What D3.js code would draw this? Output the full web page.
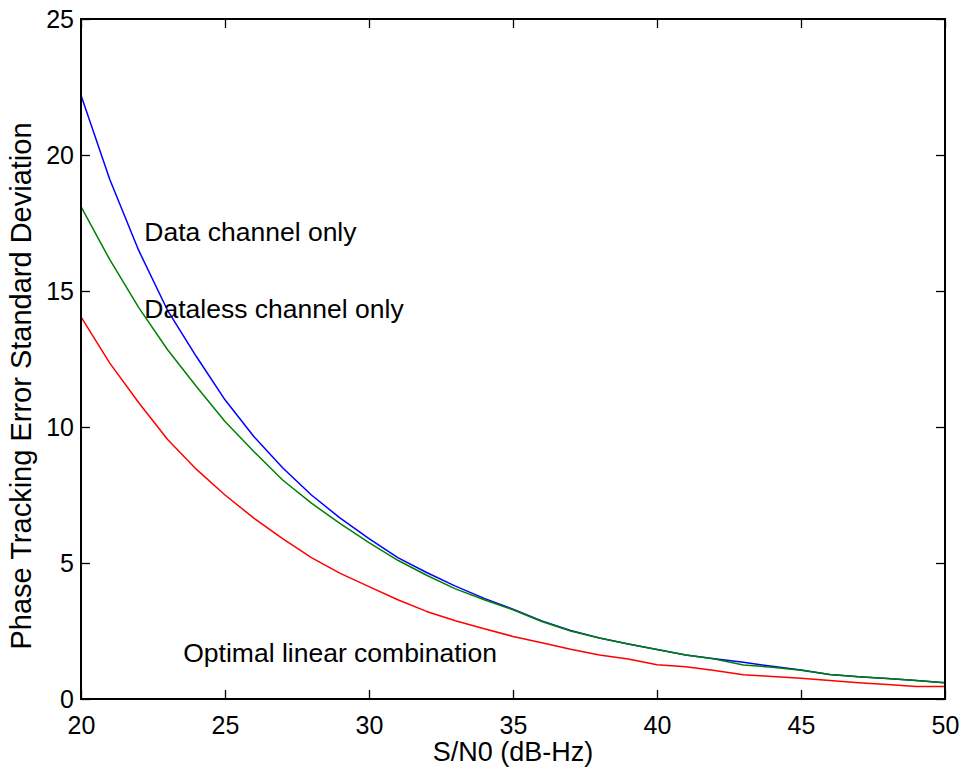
<!DOCTYPE html>
<html>
<head>
<meta charset="utf-8">
<script src="https://cdn.jsdelivr.net/npm/d3@7"></script>
<style>
  body { margin: 0; background: #fff; }
  svg { display: block; font-family: "Liberation Sans", Arial, Helvetica, sans-serif; }
</style>
</head>
<body>
<svg id="chart" width="964" height="775"></svg>
<script>
const snr = [20,21,22,23,24,25,26,27,28,29,30,31,32,33,34,35,36,37,38,39,40,41,42,43,44,45,46,47,48,49,50];
const dataChannel = [22.2,19.1,16.5,14.3,12.6,11.0,9.65,8.5,7.5,6.65,5.9,5.2,4.65,4.15,3.7,3.3,2.87,2.52,2.24,2.02,1.82,1.62,1.48,1.35,1.2,1.07,0.9,0.82,0.75,0.68,0.6];
const datalessChannel = [18.1,16.15,14.4,12.85,11.5,10.2,9.1,8.05,7.2,6.45,5.75,5.1,4.55,4.05,3.65,3.28,2.85,2.5,2.24,2.02,1.82,1.62,1.47,1.25,1.17,1.06,0.9,0.82,0.75,0.68,0.6];
const optimalCombination = [14.05,12.35,10.9,9.55,8.45,7.5,6.65,5.9,5.2,4.62,4.13,3.65,3.22,2.88,2.58,2.3,2.07,1.83,1.62,1.47,1.26,1.19,1.05,0.89,0.83,0.76,0.68,0.6,0.53,0.46,0.46];
const xTicks = [20,25,30,35,40,45,50];
const yTicks = [0,5,10,15,20,25];
const seriesNames = ["Data channel only","Dataless channel only","Optimal linear combination"];
const seriesColors = ["#0000ff","#008000","#ff0000"];
const xLabel = "S/N0 (dB-Hz)";
const yLabel = "Phase Tracking Error Standard Deviation";
const annX = [22.2, 22.2, 23.55];
const annY = [16.84, 14.0, 1.36];

const svg = d3.select("#chart");
const L = 81, R = 945, T = 19, B = 699;
const x = d3.scaleLinear().domain([20,50]).range([L,R]);
const y = d3.scaleLinear().domain([0,25]).range([B,T]);
const tickLen = 9;

// series
const allSeries = [dataChannel, datalessChannel, optimalCombination];
const line = d3.line().x((d,i)=>x(snr[i])).y(d=>y(d));
[2,0,1].forEach(k => {
  svg.append("path").datum(allSeries[k])
    .attr("d", line)
    .attr("fill","none")
    .attr("stroke", seriesColors[k])
    .attr("stroke-width", 1.5)
    .attr("stroke-linejoin","round");
});

// axes (inward ticks)
const tickFs = 25;
const gB = svg.append("g").attr("transform",`translate(0,${B})`)
  .call(d3.axisBottom(x).tickValues(xTicks).tickSizeInner(-tickLen).tickSizeOuter(0).tickPadding(17).tickFormat(d3.format("d")));
const gT = svg.append("g").attr("transform",`translate(0,${T})`)
  .call(d3.axisTop(x).tickValues(xTicks).tickSizeInner(-tickLen).tickSizeOuter(0).tickFormat(""));
const gL = svg.append("g").attr("transform",`translate(${L},0)`)
  .call(d3.axisLeft(y).tickValues(yTicks).tickSizeInner(-tickLen).tickSizeOuter(0).tickPadding(7).tickFormat(d3.format("d")));
const gR = svg.append("g").attr("transform",`translate(${R},0)`)
  .call(d3.axisRight(y).tickValues(yTicks).tickSizeInner(-tickLen).tickSizeOuter(0).tickFormat(""));
[gB,gT,gL,gR].forEach(g => {
  g.select(".domain").remove();
  g.selectAll(".tick line").attr("stroke","#000").attr("stroke-width",1.3);
  g.selectAll(".tick text").attr("fill","#000").attr("font-size",tickFs).attr("font-family","Liberation Sans, Arial, sans-serif");
});
gL.selectAll(".tick text").attr("x",-7);

// frame
svg.append("rect").attr("x",L).attr("y",T).attr("width",R-L).attr("height",B-T)
  .attr("fill","none").attr("stroke","#000").attr("stroke-width",2);

// axis labels
svg.append("text").attr("x",(L+R)/2).attr("y",761).attr("text-anchor","middle")
  .attr("font-size",27).attr("fill","#000").text(xLabel);
svg.append("text").attr("transform","translate(31,386) rotate(-90)").attr("text-anchor","middle")
  .attr("font-size",29).attr("fill","#000").text(yLabel);

// annotations
seriesNames.forEach((n,i) => {
  svg.append("text").attr("x", x(annX[i])).attr("y", y(annY[i]))
    .attr("font-size",26.5).attr("fill","#000").text(n);
});
</script>
</body>
</html>
